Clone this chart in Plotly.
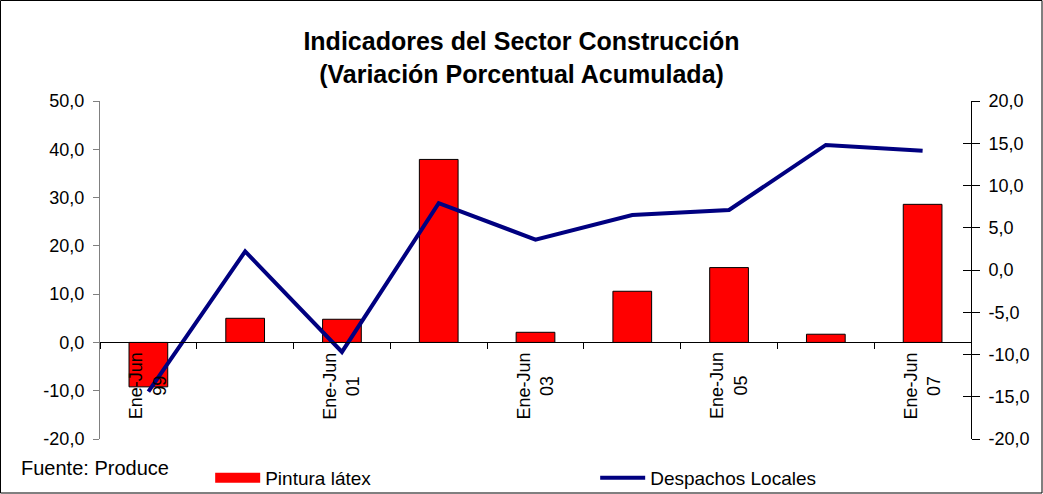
import plotly.graph_objects as go

categories = ["Ene-Jun 99", "Ene-Jun 00", "Ene-Jun 01", "Ene-Jun 02", "Ene-Jun 03",
              "Ene-Jun 04", "Ene-Jun 05", "Ene-Jun 06", "Ene-Jun 07"]
tick_labels = ["Ene-Jun<br>99", "", "Ene-Jun<br>01", "", "Ene-Jun<br>03",
               "", "Ene-Jun<br>05", "", "Ene-Jun<br>07"]
pintura_latex = [-9.2, 5.0, 4.8, 37.9, 2.1, 10.6, 15.5, 1.7, 28.6]
despachos_locales = [-14.4, 2.2, -9.7, 7.9, 3.6, 6.5, 7.1, 14.8, 14.1]

left_tickvals = [-20, -10, 0, 10, 20, 30, 40, 50]
left_ticktext = ["-20,0", "-10,0", "0,0", "10,0", "20,0", "30,0", "40,0", "50,0"]
right_tickvals = [-20, -15, -10, -5, 0, 5, 10, 15, 20]
right_ticktext = ["-20,0", "-15,0", "-10,0", "-5,0", "0,0", "5,0", "10,0", "15,0", "20,0"]

FONT = "Arial, Liberation Sans, sans-serif"

fig = go.Figure()
fig.add_trace(go.Bar(
    x=categories, y=pintura_latex, name="Pintura látex",
    marker=dict(color="#FF0000", line=dict(color="black", width=1)),
    yaxis="y", xaxis="x", showlegend=False,
))
# legend entry for the bars (wide red block like the original)
fig.add_trace(go.Scatter(
    x=[categories[0]], y=[None], name="Pintura látex", mode="lines",
    line=dict(color="#FF0000", width=13), yaxis="y", xaxis="x",
    hoverinfo="skip",
))
fig.add_trace(go.Scatter(
    x=categories, y=despachos_locales, name="Despachos Locales",
    mode="lines", line=dict(color="#000080", width=4),
    yaxis="y2", xaxis="x",
))

annotations = []
for c, t in zip(categories, tick_labels):
    if t:
        annotations.append(dict(
            x=c, y=0, xref="x", yref="y", text=t, textangle=-90,
            showarrow=False, xanchor="center", yanchor="top", yshift=-8,
            align="center", font=dict(family=FONT, size=18, color="black"),
        ))
annotations.append(dict(
    x=-0.093, y=-0.085, xref="paper", yref="paper", text="Fuente: Produce",
    showarrow=False, xanchor="left", yanchor="middle",
    font=dict(family=FONT, size=20, color="black"),
))

fig.update_layout(
    width=1043, height=494,
    margin=dict(l=100, r=72, t=101, b=55, autoexpand=False),
    paper_bgcolor="white", plot_bgcolor="white",
    separators=",.",
    showlegend=True,
    bargap=0.6,
    font=dict(family=FONT, size=18, color="black"),
    title=dict(
        text="<b>Indicadores del Sector Construcción<br>(Variación Porcentual Acumulada)</b>",
        x=0.5, xanchor="center", xref="container",
        y=1 - 50 / 494, yanchor="middle", yref="container",
        font=dict(family=FONT, size=25, color="black"),
    ),
    xaxis=dict(
        type="category", anchor="free", position=20 / 70,
        showline=True, linecolor="black", linewidth=1,
        ticks="outside", ticklen=6, tickcolor="black", tickson="boundaries",
        showticklabels=False, showgrid=False, zeroline=False,
        range=[-0.5, 8.5],
    ),
    yaxis=dict(
        range=[-20, 50], tickmode="array", tickvals=left_tickvals, ticktext=left_ticktext,
        showline=True, linecolor="#808080", linewidth=1,
        ticks="outside", ticklen=6, tickcolor="#808080",
        ticklabelstandoff=5,
        showgrid=False, zeroline=False,
        tickfont=dict(family=FONT, size=18, color="black"),
    ),
    yaxis2=dict(
        range=[-20, 20], tickmode="array", tickvals=right_tickvals, ticktext=right_ticktext,
        overlaying="y", side="right", anchor="x",
        showline=True, linecolor="black", linewidth=1,
        ticks="outside", ticklen=8, tickcolor="black",
        ticklabelstandoff=5,
        showgrid=False, zeroline=False,
        tickfont=dict(family=FONT, size=18, color="black"),
    ),
    yaxis3=dict(
        range=[-20, 20], tickmode="array", tickvals=right_tickvals,
        overlaying="y", side="right", anchor="x",
        showline=False, ticks="inside", ticklen=8, tickcolor="black",
        showticklabels=False, showgrid=False, zeroline=False,
    ),
    legend=dict(
        orientation="h", x=0.1265, y=-0.115, xanchor="left", yanchor="middle",
        entrywidth=325, entrywidthmode="pixels", itemwidth=45,
        font=dict(family=FONT, size=19, color="black"),
        bgcolor="rgba(0,0,0,0)",
    ),
    annotations=annotations,
    shapes=[dict(
        type="rect", xref="paper", yref="paper",
        x0=-99.5 / 871, x1=(1042 - 100) / 871, y0=(439 - 493) / 338, y1=(439 - 0.5) / 338,
        line=dict(color="black", width=1), fillcolor="rgba(0,0,0,0)", layer="above",
    )],
)

# invisible helper trace so the inner-tick axis is drawn
fig.add_trace(go.Scatter(x=[categories[0]], y=[0], yaxis="y3", xaxis="x",
                         mode="markers", marker=dict(opacity=0), showlegend=False,
                         hoverinfo="skip"))

fig.write_html(
    "out.html",
    config={"displayModeBar": False},
    post_script="document.body.style.margin='0';document.body.style.overflow='hidden';",
)
